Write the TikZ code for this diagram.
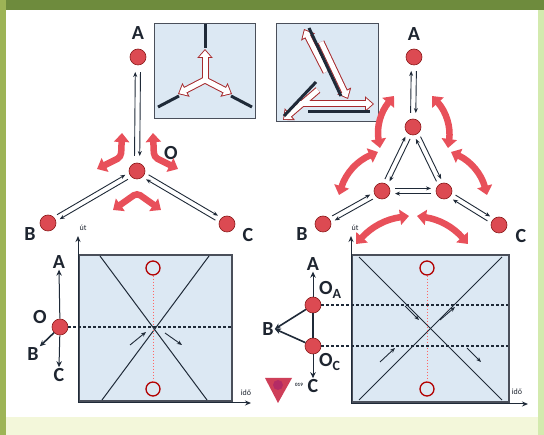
\documentclass[tikz,border=0pt]{standalone}
\usepackage{fontspec}
\setmainfont{Carlito}
\usetikzlibrary{arrows.meta,calc}
\definecolor{hdr}{HTML}{6E8B3D}
\definecolor{lstrip}{HTML}{9DB456}
\definecolor{rstrip}{HTML}{D3EAAE}
\definecolor{bband}{HTML}{F3F7DA}
\definecolor{redfill}{HTML}{DC4A52}
\definecolor{reddark}{HTML}{8B1A1A}
\definecolor{arrowred}{HTML}{E8505A}
\definecolor{panelblue}{HTML}{DCE8F3}
\definecolor{boxc}{HTML}{4A4F5A}
\definecolor{linec}{HTML}{1F2A38}
\definecolor{labc}{HTML}{1E2530}
\newcommand{\twoway}[3]{%
  \draw[blk] ($(#1)!#3!(#2)!2.6pt!90:(#2)$) -- ($(#2)!#3!(#1)!2.6pt!-90:(#1)$);
  \draw[blk] ($(#2)!#3!(#1)!2.6pt!90:(#1)$) -- ($(#1)!#3!(#2)!2.6pt!-90:(#2)$);
}
\begin{document}
\begin{tikzpicture}[x=1pt,y=-1pt,
  rc/.style={circle,fill=redfill,draw=reddark,line width=0.6pt,minimum size=16pt,inner sep=0pt},
  lab/.style={font=\fontsize{20}{22}\selectfont\bfseries,text=labc,inner sep=1pt},
  slab/.style={font=\fontsize{8}{9}\selectfont,text=labc,inner sep=0pt},
  blk/.style={-{Stealth[length=5pt,width=4pt]},line width=0.9pt,draw=linec},
  ax/.style={-{Stealth[length=6pt,width=5pt]},line width=1pt,draw=linec},
  thk/.style={-{Stealth[length=6pt,width=5.5pt]},line width=1.6pt,draw=linec},
  fat/.style={draw=arrowred,line width=6.5pt,{Triangle[width=15pt,length=9pt]}-{Triangle[width=15pt,length=9pt]}},
  holr/.style={draw=reddark!70!arrowred,line width=7pt,-{Triangle[width=15pt,length=9pt]}},
  holw/.style={draw=white,line width=5pt,-{Triangle[width=11pt,length=6.6pt]},shorten >=1.4pt},
  inset/.style={fill=panelblue,draw=boxc,line width=1pt},
  panel/.style={fill=panelblue,draw=boxc,line width=2.2pt},
  dline/.style={draw=linec,line width=2.2pt,dash pattern=on 3pt off 2pt},
  rdot/.style={draw=red!60,line width=0.7pt,dash pattern=on 1.5pt off 1.5pt},
  ring/.style={circle,draw=red!70!black,line width=1.3pt,minimum size=14pt,inner sep=0pt},
  xl/.style={draw=linec,line width=1pt},
  sm/.style={-{Stealth[length=5pt,width=4pt]},line width=0.9pt,draw=linec},
  bar/.style={draw=linec,line width=3pt}]
\useasboundingbox (0,0) rectangle (544,435);
% background
\fill[white] (0,0) rectangle (544,435);
\fill[bband] (0,417) rectangle (544,435);
\fill[hdr] (0,0) rectangle (544,10);
\fill[lstrip] (0,0) rectangle (6,435);
\fill[rstrip] (538,10) rectangle (544,435);

% ===== top-left diagram =====
\node[inset,minimum width=101pt,minimum height=95pt,inner sep=0pt] (in1) at (205,71) {};
\draw[bar] (205,24) -- (205,48);
\draw[bar] (158,107) -- (179,96);
\draw[bar] (252,107) -- (231,96);
\coordinate (m1) at (205,80);
\foreach \t in {(205,49),(178,94),(232,94)} \draw[holr] (m1) -- \t;
\foreach \t in {(205,49),(178,94),(232,94)} \draw[holw] (m1) -- \t;

\node[rc] (A) at (138,57) {};
\node[lab] (Al) at (138,33) {A};
\node[rc] (O) at (137,171) {};
\node[lab] (Ol) at (171,153) {O};
\node[rc] (B) at (48,223) {};
\node[lab] (Bl) at (30,234) {B};
\node[rc] (C) at (227,224) {};
\node[lab] (Cl) at (248,235) {C};
\twoway{A}{O}{15pt}
\twoway{O}{B}{12pt}
\twoway{O}{C}{12pt}
\draw[fat,rounded corners=4pt] (97,169) -- (121,157) -- (122,133);
\draw[fat,rounded corners=4pt] (178,169) -- (154,157) -- (153,133);
\draw[fat,rounded corners=4pt] (113,210) -- (137,193) -- (161,210);

% ===== top-right diagram =====
\node[inset,minimum width=102pt,minimum height=98pt,inner sep=0pt] (in2) at (327,73) {};
\draw[holr] (326,72) -- (304,29);
\draw[holr] (321,42) -- (348,99);
\draw[holr] (298,104) -- (374,104);
\draw[holr] (318,90) -- (283,120);
\draw[holw] (326,72) -- (304,29);
\draw[holw] (321,42) -- (348,99);
\draw[holw] (298,104) -- (374,104);
\draw[holw] (318,90) -- (283,120);
\draw[bar] (309,28) -- (341,96);
\draw[bar] (316,82) -- (284,116);
\draw[bar] (308,112) -- (370,112);

\node[rc] (A2) at (414,57) {};
\node[lab] (A2l) at (414,34) {A};
\node[rc] (T) at (413,127) {};
\node[rc] (L) at (382,191) {};
\node[rc] (R) at (444,191) {};
\node[rc] (B2) at (323,224) {};
\node[lab] (B2l) at (302,234) {B};
\node[rc] (C2) at (499,225) {};
\node[lab] (C2l) at (521,236) {C};
\twoway{A2}{T}{14pt}
\twoway{T}{L}{12pt}
\twoway{T}{R}{12pt}
\twoway{L}{R}{13pt}
\twoway{L}{B2}{12pt}
\twoway{R}{C2}{12pt}
\draw[fat] (380,148) to[bend left=25] (394,96);
\draw[fat] (448,148) to[bend right=25] (432,96);
\draw[fat] (378,152) to[bend right=25] (339,195);
\draw[fat] (451,152) to[bend left=25] (487,195);
\draw[fat] (356,244) to[bend left=20] (409,216);
\draw[fat] (417,216) to[bend left=20] (468,244);

% ===== bottom-left panel =====
\draw[panel] (79,255) rectangle (232,401);
\coordinate (o1) at (78,403);
\coordinate (u1) at (78,236);
\coordinate (i1) at (251,403);
\draw[ax] (o1) -- (u1);
\draw[ax] (o1) -- (i1);
\node[slab] (ut1) at (83,228) {út};
\node[slab] (id1) at (246,393) {idő};
\draw[xl] (100,256) -- (207,400);
\draw[xl] (209,256) -- (102,400);
\node[ring] (r1t) at (153,268) {};
\node[ring] (r1b) at (153,389) {};
\draw[rdot] (r1t) -- (r1b);
\draw[sm] (130,345) -- (146,332);
\draw[sm] (165,333) -- (182,345);
\node[rc] (Ob) at (60,327) {};
\coordinate (e1) at (231,327);
\draw[dline] (Ob.east) -- (e1);
\node[lab] (Abl) at (59,262) {A};
\node[lab] (Cbl) at (59,375) {C};
\node[lab] (Bbl) at (33,354) {B};
\node[lab] (Obl) at (40,317) {O};
\draw[thk,line width=1pt] (Ob) -- (Abl.south);
\draw[thk,line width=1pt] (Ob) -- (Cbl.north);
\draw[thk] (Ob) -- (Bbl.north east);

% ===== bottom-right panel =====
\draw[panel] (352,255) rectangle (509,402);
\coordinate (o2) at (351,404);
\coordinate (u2) at (351,236);
\coordinate (i2) at (528,404);
\draw[ax] (o2) -- (u2);
\draw[ax] (o2) -- (i2);
\node[slab] (ut2) at (355,228) {út};
\node[slab] (id2) at (517,392) {idő};
\draw[xl] (359,257) -- (502,400);
\draw[xl] (502,257) -- (359,400);
\node[ring] (r2t) at (427,268) {};
\node[ring] (r2b) at (427,389) {};
\draw[rdot] (r2t) -- (r2b);
\draw[sm] (405,306) -- (419,320);
\draw[sm] (440,320) -- (455,307);
\draw[sm] (380,362) -- (395,348);
\draw[sm] (467,348) -- (481,362);
\node[rc] (OA) at (313,305) {};
\node[rc] (OC) at (313,346) {};
\coordinate (e2) at (508,305);
\coordinate (e3) at (508,346);
\draw[dline] (OA.east) -- (e2);
\draw[dline] (OC.east) -- (e3);
\draw[line width=1.6pt,draw=linec] (OA) -- (OC);
\node[lab] (Arl) at (313,264) {A};
\node[lab] (Crl) at (313,386) {C};
\node[lab] (Brl) at (268,329) {B};
\node[lab,anchor=west] (OAl) at (318,290) {O\textsubscript{A}};
\node[lab,anchor=west] (OCl) at (318,362) {O\textsubscript{C}};
\draw[thk,line width=1pt] (OA) -- (Arl.south);
\draw[thk,line width=1pt] (OC) -- (Crl.north);
\draw[thk] (OA) -- (Brl.east);
\draw[thk] (OC) -- (Brl.east);
% logo
\coordinate (t1) at (265,378);
\coordinate (t2) at (292,378);
\coordinate (t3) at (278,403);
\fill[redfill!85!violet] (t1) -- (t2) -- (t3) -- cycle;
\fill[violet!60!redfill,opacity=0.6] (278,385) circle (5pt);
\node[font=\fontsize{5}{6}\selectfont\bfseries,text=labc,inner sep=0pt] (n019) at (299,385) {019};
\end{tikzpicture}
\end{document}
